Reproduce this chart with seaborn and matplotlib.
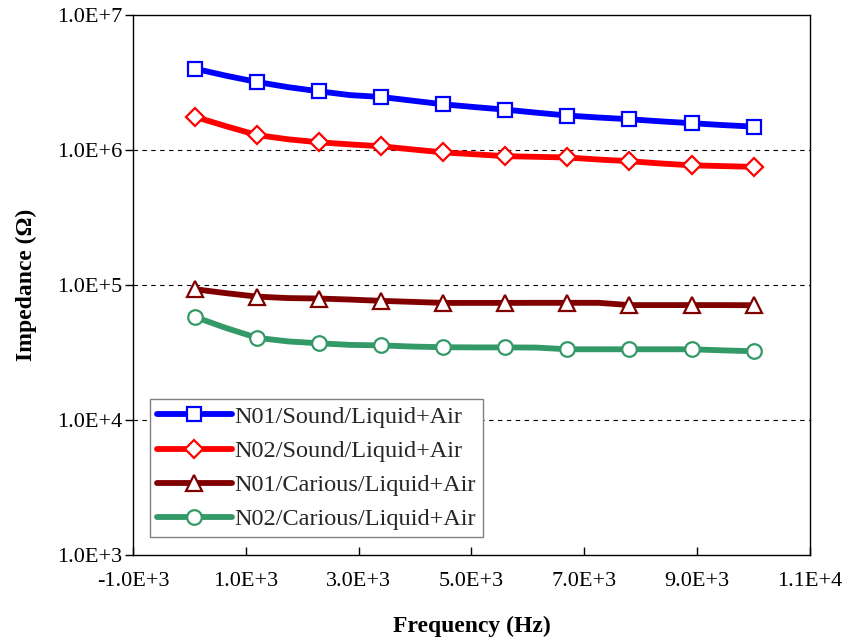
import matplotlib
matplotlib.use("Agg")
import matplotlib.pyplot as plt
import seaborn as sns
import pandas as pd
from matplotlib.ticker import FixedLocator, NullLocator

freq = [100, 650, 1200, 1750, 2300, 2850, 3400, 3950, 4500, 5050,
        5600, 6150, 6700, 7250, 7800, 8350, 8900, 9450, 10000]

n01_sound = [4.0e6, 3.55e6, 3.19e6, 2.92e6, 2.72e6, 2.55e6, 2.47e6, 2.32e6, 2.18e6, 2.08e6,
             1.99e6, 1.89e6, 1.80e6, 1.74e6, 1.69e6, 1.63e6, 1.58e6, 1.53e6, 1.49e6]
n02_sound = [1.76e6, 1.50e6, 1.29e6, 1.20e6, 1.14e6, 1.10e6, 1.065e6, 1.01e6, 9.6e5, 9.3e5,
             9.0e5, 8.9e5, 8.8e5, 8.5e5, 8.26e5, 7.95e5, 7.7e5, 7.6e5, 7.5e5]
n01_carious = [9.3e4, 8.7e4, 8.2e4, 8.0e4, 7.94e4, 7.8e4, 7.63e4, 7.5e4, 7.37e4, 7.37e4,
               7.37e4, 7.38e4, 7.38e4, 7.38e4, 7.1e4, 7.1e4, 7.1e4, 7.1e4, 7.08e4]
n02_carious = [5.8e4, 4.8e4, 4.06e4, 3.82e4, 3.70e4, 3.60e4, 3.57e4, 3.50e4, 3.46e4, 3.45e4,
               3.45e4, 3.44e4, 3.34e4, 3.34e4, 3.34e4, 3.34e4, 3.34e4, 3.28e4, 3.23e4]

series_names = ["N01/Sound/Liquid+Air", "N02/Sound/Liquid+Air",
                "N01/Carious/Liquid+Air", "N02/Carious/Liquid+Air"]
series_values = [n01_sound, n02_sound, n01_carious, n02_carious]
colors = ["#0000FF", "#FF0000", "#800000", "#339966"]
markers = ["s", "D", "^", "o"]
msizes = [10.5, 9.5, 12, 10.5]

x_ticks = [-1000, 1000, 3000, 5000, 7000, 9000, 11000]
x_tick_labels = ["-1.0E+3", "1.0E+3", "3.0E+3", "5.0E+3", "7.0E+3", "9.0E+3", "1.1E+4"]
y_ticks = [1e3, 1e4, 1e5, 1e6, 1e7]
y_tick_labels = ["1.0E+3", "1.0E+4", "1.0E+5", "1.0E+6", "1.0E+7"]

sns.set_theme(style="white")
plt.rcParams["font.family"] = ["Liberation Serif", "DejaVu Serif"]

fig = plt.figure(figsize=(8.45, 6.38), dpi=100)
ax = fig.add_axes([133/845, 1-555/638, (810-133)/845, (555-15)/638])

for name, vals, c, m, ms in zip(series_names, series_values, colors, markers, msizes):
    d = pd.DataFrame({"freq": freq, "val": vals})
    sns.lineplot(data=d, x="freq", y="val", ax=ax, color=c, linewidth=4.2,
                 marker=m, markersize=ms, markerfacecolor="white",
                 markeredgecolor=c, markeredgewidth=1.6, markevery=2,
                 label=name, zorder=3)

ax.set_yscale("log")
ax.set_xlim(-1000, 11000)
ax.set_ylim(1e3, 1e7)
ax.xaxis.set_major_locator(FixedLocator(x_ticks))
ax.set_xticklabels(x_tick_labels)
ax.yaxis.set_major_locator(FixedLocator(y_ticks))
ax.set_yticklabels(y_tick_labels)
ax.yaxis.set_minor_locator(NullLocator())
ax.xaxis.set_minor_locator(NullLocator())

for yv in [1e4, 1e5, 1e6]:
    ax.axhline(yv, color="black", linestyle=(0, (4, 4)), linewidth=0.8, zorder=1)

ax.tick_params(axis="x", direction="in", length=6, width=1, colors="black",
               labelsize=16, pad=12, bottom=True)
ax.tick_params(axis="y", direction="out", length=6, width=1, colors="black",
               labelsize=16, pad=2, left=True)

for s in ax.spines.values():
    s.set_color("black")
    s.set_linewidth(1)

ax.set_xlabel("Frequency (Hz)", fontsize=17, fontweight="bold", labelpad=18, color="black")
ax.set_ylabel("Impedance (Ω)", fontsize=17, fontweight="bold", labelpad=14, color="black")

leg = ax.legend(loc="lower left", bbox_to_anchor=(0.025, 0.033), fontsize=17.5,
                frameon=True, fancybox=False, edgecolor="#808080", framealpha=1,
                handlelength=3.1, borderpad=0.28, labelspacing=0.5, handletextpad=0.1,
                borderaxespad=0)
leg.get_frame().set_linewidth(1)

fig.savefig("out.png", dpi=100)
